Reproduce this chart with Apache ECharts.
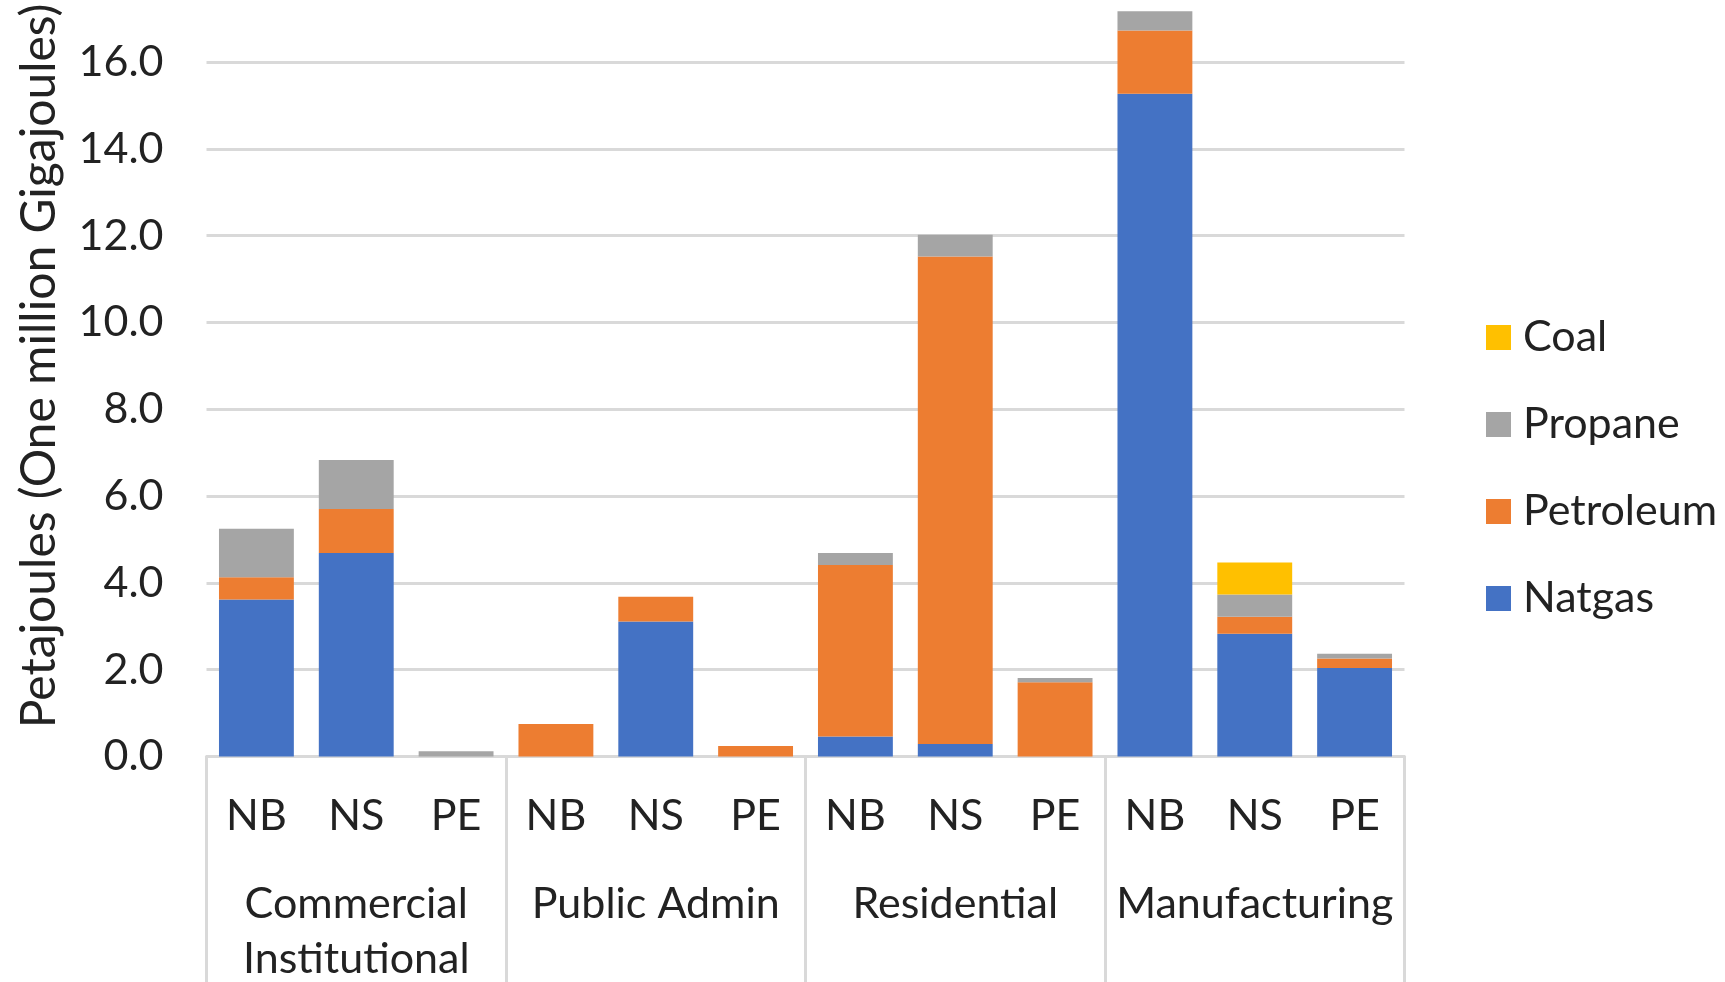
<!DOCTYPE html>
<html>
<head>
<meta charset="utf-8">
<script src="https://cdn.jsdelivr.net/npm/echarts@6/dist/echarts.min.js"></script>
<style>
html,body{margin:0;padding:0;background:#fff;}
#chart{width:1725px;height:982px;}
</style>
</head>
<body>
<div id="chart"></div>
<script>
// ---- Data ----
const provinces = ['NB', 'NS', 'PE'];
const sectors = ['Commercial\nInstitutional', 'Public Admin', 'Residential', 'Manufacturing'];
const categories = ['NB','NS','PE','NB','NS','PE','NB','NS','PE','NB','NS','PE'];
const natgas    = [3.62, 4.69, 0,    0,    3.11, 0,    0.46, 0.29,  0,    15.27, 2.83, 2.04];
const petroleum = [0.51, 1.01, 0,    0.75, 0.57, 0.24, 3.95, 11.23, 1.71, 1.46,  0.39, 0.22];
const propane   = [1.12, 1.13, 0.12, 0,    0,    0,    0.28, 0.50,  0.10, 0.44,  0.51, 0.11];
const coal      = [0,    0,    0,    0,    0,    0,    0,    0,     0,    0,     0.74, 0];
const yTicks = [0, 2, 4, 6, 8, 10, 12, 14, 16];
const yTitle = 'Petajoules (One million Gigajoules)';

const FONT = 'Lato';
const FS = 43;
const TXT = '#222222';
const LINE = '#d9d9d9';

const chart = echarts.init(document.getElementById('chart'), null, {renderer: 'canvas'});

function mkSeries(name, data, color) {
  return {
    name: name, type: 'bar', stack: 'total', data: data,
    xAxisIndex: 0, yAxisIndex: 0,
    barCategoryGap: '25%',
    itemStyle: {color: color},
    emphasis: {disabled: true}
  };
}

chart.setOption({
  animation: false,
  backgroundColor: '#ffffff',
  textStyle: {fontFamily: FONT},
  grid: {left: 206.5, right: 1725 - 1404.5, top: -24.7, bottom: 982 - 756.5, containLabel: false, outerBoundsMode: 'none'},
  legend: {
    orient: 'vertical',
    left: 1481, top: 311,
    itemWidth: 25, itemHeight: 25, itemGap: 44,
    icon: 'rect',
    data: ['Coal', 'Propane', 'Petroleum', 'Natgas'],
    textStyle: {fontFamily: FONT, fontSize: FS, color: TXT, padding: [0, 0, 0, 7]},
    selectedMode: false
  },
  xAxis: [
    {
      type: 'category', data: categories, position: 'bottom', gridIndex: 0,
      axisLine: {show: true, lineStyle: {color: LINE, width: 3}},
      axisTick: {show: false},
      axisLabel: {fontFamily: FONT, fontSize: FS, color: TXT, margin: 37, lineHeight: 45, interval: 0}
    },
    {
      type: 'category', data: sectors, position: 'bottom', gridIndex: 0,
      axisLine: {show: false},
      axisTick: {show: true, length: 230, lineStyle: {color: LINE, width: 3}},
      axisLabel: {fontFamily: FONT, fontSize: FS, color: TXT, margin: 120, lineHeight: 55, interval: 0}
    }
  ],
  yAxis: {
    type: 'value', min: 0, max: 18, interval: 2,
    name: yTitle, nameLocation: 'middle', nameGap: 143, nameRotate: 90,
    nameTextStyle: {fontFamily: FONT, fontSize: 48, color: TXT},
    axisLine: {show: false}, axisTick: {show: false},
    axisLabel: {
      fontFamily: FONT, fontSize: FS, color: TXT, margin: 43,
      formatter: function (v) { return yTicks.indexOf(v) >= 0 ? v.toFixed(1) : ''; }
    },
    splitLine: {show: true, lineStyle: {color: LINE, width: 3}}
  },
  series: [
    mkSeries('Natgas', natgas, '#4472C4'),
    mkSeries('Petroleum', petroleum, '#ED7D31'),
    mkSeries('Propane', propane, '#A5A5A5'),
    mkSeries('Coal', coal, '#FFC000')
  ]
});
</script>
</body>
</html>
